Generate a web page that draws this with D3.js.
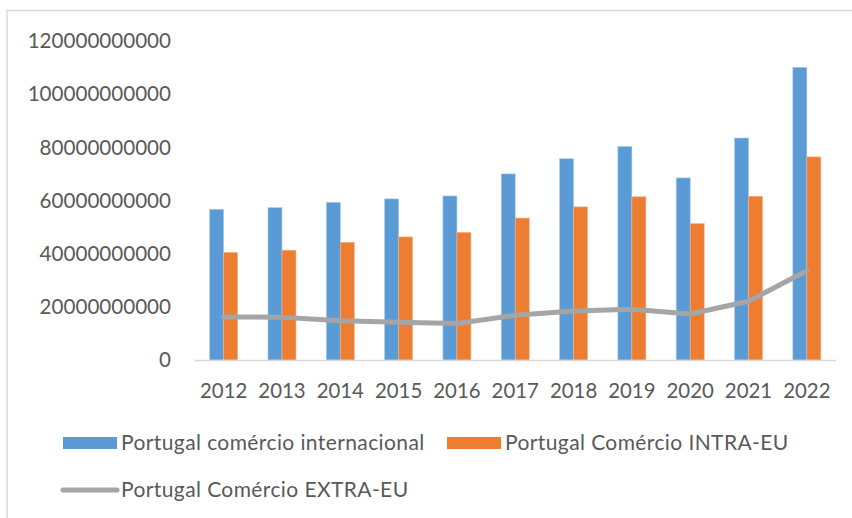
<!DOCTYPE html>
<meta charset="utf-8">
<head>
    <meta charset="utf-8">
    <title>Portugal Comércio</title>
    <script src="https://d3js.org/d3.v7.min.js"></script>
    <style>
        body {
            margin: 0;
            font-family: 'Lato', 'Liberation Sans', sans-serif;
            background: #fff;
        }
        text {
            fill: #595959;
        }
        .legend text {
            font-size: 21px;
            letter-spacing: 0.4px;
        }
    </style>
</head>
<body>
<div id="my_dataviz"></div>
<script>
    // Data
    var years = ["2012", "2013", "2014", "2015", "2016", "2017", "2018", "2019", "2020", "2021", "2022"];
    var internacional = [56.7e9, 57.3e9, 59.3e9, 60.6e9, 61.7e9, 70.0e9, 75.7e9, 80.3e9, 68.5e9, 83.5e9, 110.1e9];
    var intraEU = [40.5e9, 41.3e9, 44.3e9, 46.3e9, 48.0e9, 53.4e9, 57.6e9, 61.4e9, 51.3e9, 61.6e9, 76.4e9];
    var extraEU = [16.2e9, 16.1e9, 14.8e9, 14.2e9, 13.7e9, 16.8e9, 18.4e9, 19.1e9, 17.3e9, 22.1e9, 33.6e9];
    var yTicks = [0, 20e9, 40e9, 60e9, 80e9, 100e9, 120e9];
    var seriesNames = ["Portugal comércio internacional", "Portugal Comércio INTRA-EU", "Portugal Comércio EXTRA-EU"];

    var colors = ["#5b9bd5", "#ed7d31", "#a5a5a5"];

    var W = 852, H = 518;
    var svg = d3.select("#my_dataviz")
        .append("svg")
        .attr("width", W)
        .attr("height", H);

    // chart frame (only top and left edges visible in the crop)
    svg.append("path")
        .attr("d", "M7,520 V10.5 H860")
        .attr("fill", "none")
        .attr("stroke", "#d9d9d9")
        .attr("stroke-width", 1.5);

    // scales
    var x = d3.scaleBand()
        .domain(years)
        .range([194.5, 836])
        .padding(0);

    var y = d3.scaleLinear()
        .domain([0, 120e9])
        .range([360, 41]);

    var barW = 14;

    // y labels
    svg.append("g")
        .selectAll("text")
        .data(yTicks)
        .join("text")
        .attr("x", 171)
        .attr("y", d => y(d))
        .attr("dy", "0.35em")
        .attr("text-anchor", "end")
        .style("font-size", "20.6px")
        .text(d => d3.format("d")(d));

    // bars - internacional
    svg.append("g")
        .selectAll("rect")
        .data(internacional)
        .join("rect")
        .attr("x", (d, i) => x(years[i]) + x.bandwidth() / 2 - barW)
        .attr("y", d => y(d))
        .attr("width", barW)
        .attr("height", d => y(0) - y(d))
        .attr("fill", colors[0])
        .attr("stroke", "#a9c9ea")
        .attr("stroke-width", 0.6);

    // bars - intra EU
    svg.append("g")
        .selectAll("rect")
        .data(intraEU)
        .join("rect")
        .attr("x", (d, i) => x(years[i]) + x.bandwidth() / 2)
        .attr("y", d => y(d))
        .attr("width", barW)
        .attr("height", d => y(0) - y(d))
        .attr("fill", colors[1])
        .attr("stroke", "#f5b48c")
        .attr("stroke-width", 0.6);

    // x axis line
    svg.append("line")
        .attr("x1", 194.5)
        .attr("x2", 836)
        .attr("y1", y(0) + 0.5)
        .attr("y2", y(0) + 0.5)
        .attr("stroke", "#d9d9d9")
        .attr("stroke-width", 1.5);

    // extra EU line
    var line = d3.line()
        .x((d, i) => x(years[i]) + x.bandwidth() / 2)
        .y(d => y(d));

    svg.append("path")
        .datum(extraEU)
        .attr("d", line)
        .attr("fill", "none")
        .attr("stroke", colors[2])
        .attr("stroke-width", 5)
        .attr("stroke-linecap", "round")
        .attr("stroke-linejoin", "round");

    // x labels
    svg.append("g")
        .selectAll("text")
        .data(years)
        .join("text")
        .attr("x", d => x(d) + x.bandwidth() / 2)
        .attr("y", 391)
        .attr("dy", "0.35em")
        .attr("text-anchor", "middle")
        .style("font-size", "20.4px")
        .text(d => d);

    // legend
    var legend = svg.append("g").attr("class", "legend");
    legend.append("rect")
        .attr("x", 63).attr("y", 437).attr("width", 54).attr("height", 12)
        .attr("fill", colors[0]);
    legend.append("text")
        .attr("x", 121).attr("y", 443).attr("dy", "0.35em")
        .text(seriesNames[0]);

    legend.append("rect")
        .attr("x", 447).attr("y", 437).attr("width", 54).attr("height", 12)
        .attr("fill", colors[1]);
    legend.append("text")
        .attr("x", 505).attr("y", 443).attr("dy", "0.35em")
        .text(seriesNames[1]);

    legend.append("line")
        .attr("x1", 63).attr("x2", 117).attr("y1", 490).attr("y2", 490)
        .attr("stroke", colors[2])
        .attr("stroke-width", 5)
        .attr("stroke-linecap", "round");
    legend.append("text")
        .attr("x", 121).attr("y", 490).attr("dy", "0.35em")
        .text(seriesNames[2]);
</script>
</body>
